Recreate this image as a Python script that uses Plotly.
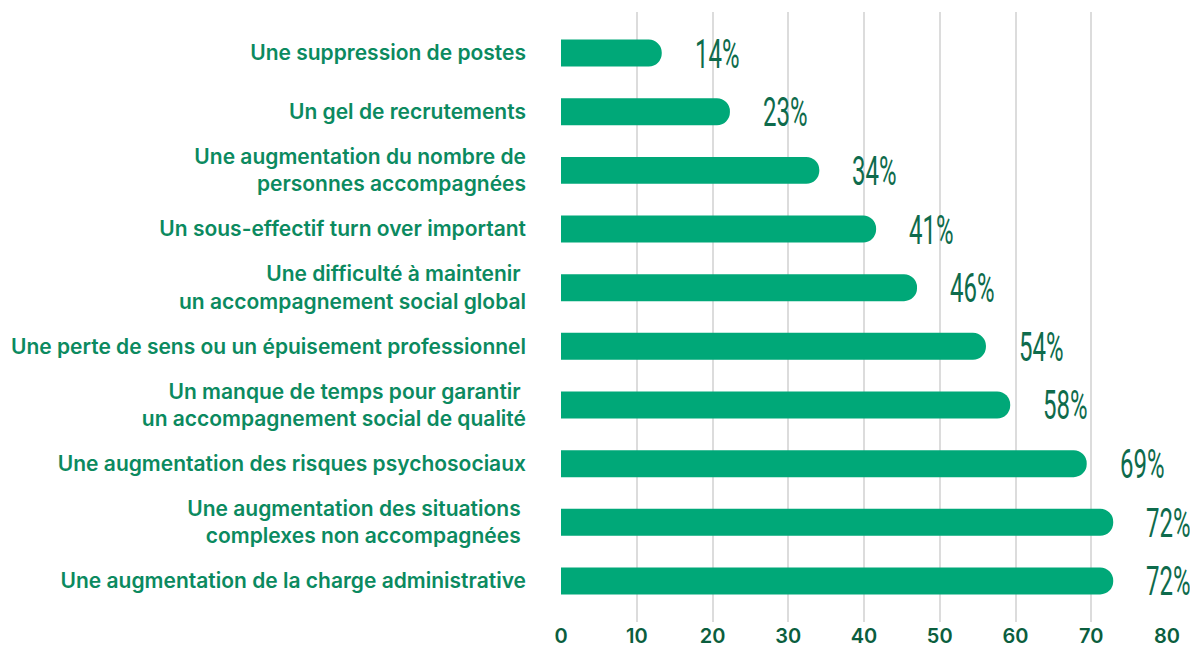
import plotly.graph_objects as go

categories = [
    "Une suppression de postes",
    "Un gel de recrutements",
    "Une augmentation du nombre de<br>personnes accompagnées",
    "Un sous-effectif turn over important",
    "Une difficulté à maintenir <br>un accompagnement social global",
    "Une perte de sens ou un épuisement professionnel",
    "Un manque de temps pour garantir <br>un accompagnement social de qualité",
    "Une augmentation des risques psychosociaux",
    "Une augmentation des situations <br>complexes non accompagnées ",
    "Une augmentation de la charge administrative",
]
values = [13.3, 22.3, 34.1, 41.6, 47.0, 56.1, 59.3, 69.4, 72.9, 72.9]
value_labels = ["14%", "23%", "34%", "41%", "46%", "54%", "58%", "69%", "72%", "72%"]
x_ticks = [0, 10, 20, 30, 40, 50, 60, 70, 80]

bar_color = "#00a878"
label_color = "#0b8a5f"
dark_green = "#0b5e3e"

fig = go.Figure()

fig.add_trace(
    go.Bar(
        x=values,
        y=categories,
        orientation="h",
        width=0.46,
        marker=dict(color=bar_color, cornerradius=13, line=dict(width=0)),
        hoverinfo="skip",
    )
)

# percentage labels right of each bar (condensed look done via CSS below)
for cat, val, lab in zip(categories, values, value_labels):
    fig.add_annotation(
        x=val,
        y=cat,
        text=lab,
        showarrow=False,
        xanchor="left",
        xshift=31,
        yshift=-1,
        font=dict(family="Roboto", size=40, color="#0e6b4c", weight=400),
    )

# page body has an 8px margin, so the figure is sized to what is left
fig.update_layout(
    width=1190,
    height=647,
    margin=dict(l=553, r=31, t=4, b=33),
    plot_bgcolor="white",
    paper_bgcolor="white",
    showlegend=False,
    xaxis=dict(
        range=[0, 80],
        tickvals=x_ticks,
        showgrid=True,
        gridcolor="#dcdcdc",
        gridwidth=2,
        zeroline=False,
        showline=False,
        tickfont=dict(family="Inter", size=20, color=dark_green, weight=600),
    ),
    yaxis=dict(
        categoryorder="array",
        categoryarray=categories,
        range=[9.7, -0.7],
        showgrid=False,
        zeroline=False,
        ticklabelstandoff=34,
        tickfont=dict(family="Inter", size=21, color=label_color, weight=600),
    ),
)

condense = """
var s = document.createElement('style');
s.textContent = '.annotation-text{transform-box:fill-box;transform-origin:0 50%;transform:scaleX(0.6);}';
document.head.appendChild(s);
"""

fig.write_html("out.html", post_script=condense)
